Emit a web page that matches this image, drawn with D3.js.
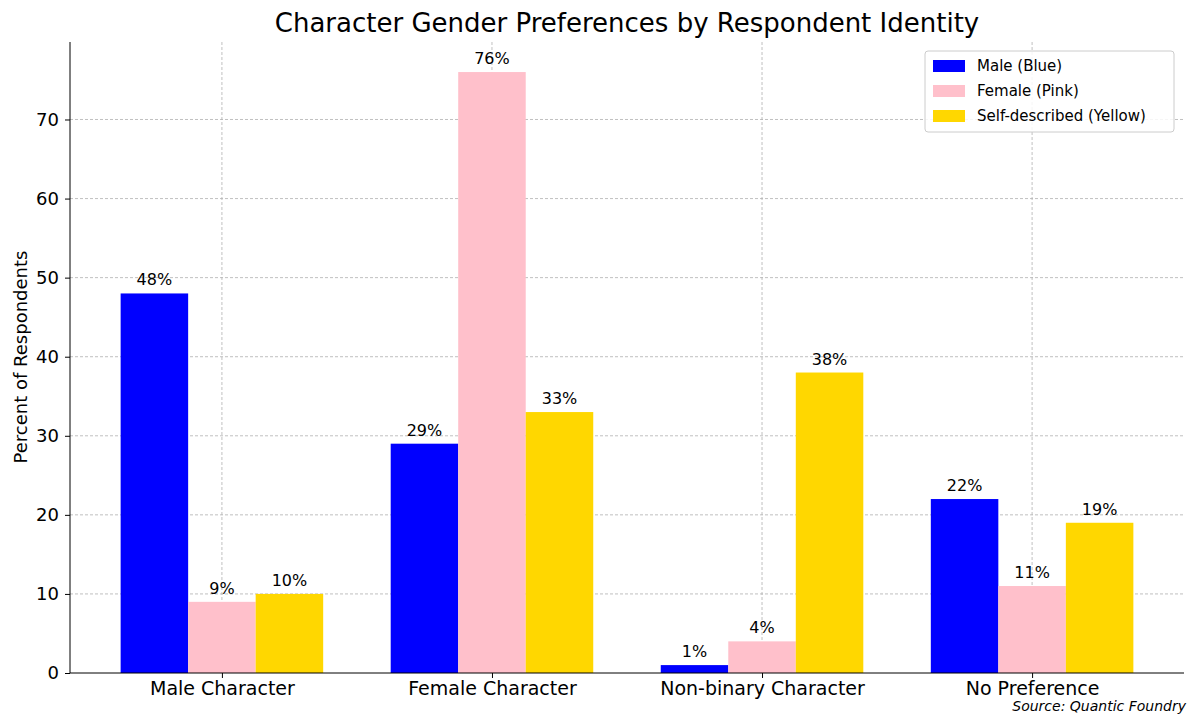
<!DOCTYPE html>
<html><head><meta charset="utf-8">
<script src="https://cdn.jsdelivr.net/npm/d3@7"></script>
<style>body{margin:0;background:#fff}svg{font-family:"DejaVu Sans",sans-serif}</style>
</head><body><svg width="1200" height="725"></svg>
<script>
const categories = ["Male Character", "Female Character", "Non-binary Character", "No Preference"];
const seriesNames = ["Male (Blue)", "Female (Pink)", "Self-described (Yellow)"];
const seriesColors = ["#0000ff", "#ffc0cb", "#ffd700"];
const maleVals = [48, 29, 1, 22];
const femaleVals = [9, 76, 4, 11];
const selfVals = [10, 33, 38, 19];
const yTicks = [0, 10, 20, 30, 40, 50, 60, 70];
const series = [maleVals, femaleVals, selfVals];

const svg = d3.select("svg");
const L = 70, R = 1184, T = 42, B = 673;
const x = d3.scaleLinear().domain([-0.5625, 3.5625]).range([L, R]);
const y = d3.scaleLinear().domain([0, 79.8]).range([B, T]);
const bw = 0.25;

// grid
const g = svg.append("g");
g.selectAll(".hg").data(yTicks.slice(1)).enter().append("line")
  .attr("x1", L).attr("x2", R).attr("y1", d => y(d)).attr("y2", d => y(d))
  .attr("stroke", "#b0b0b0").attr("stroke-dasharray", "3,2").attr("stroke-width", 0.8);
g.selectAll(".vg").data(categories).enter().append("line")
  .attr("x1", (d, i) => x(i)).attr("x2", (d, i) => x(i)).attr("y1", T).attr("y2", B)
  .attr("stroke", "#b0b0b0").attr("stroke-dasharray", "3,2").attr("stroke-width", 0.8);

// bars
series.forEach((vals, s) => {
  const off = (s - 1) * bw;
  svg.append("g").selectAll("rect").data(vals).enter().append("rect")
    .attr("x", (d, i) => x(i + off - bw / 2)).attr("width", x(bw) - x(0))
    .attr("y", d => y(d)).attr("height", d => B - y(d))
    .attr("fill", seriesColors[s]);
  svg.append("g").selectAll("text").data(vals).enter().append("text")
    .attr("x", (d, i) => x(i + off)).attr("y", d => y(d) - 8)
    .attr("text-anchor", "middle").attr("font-size", 16).text(d => d + "%");
});

// axes
const ya = svg.append("g").attr("transform", `translate(${L},0)`)
  .call(d3.axisLeft(y).tickValues(yTicks).tickSize(5).tickPadding(6));
ya.select(".domain").attr("d", `M0,${T}V${B}`);
ya.selectAll("text").attr("font-size", 18).attr("font-family", "DejaVu Sans");
const xa = svg.append("g").attr("transform", `translate(0,${B})`)
  .call(d3.axisBottom(x).tickValues([0, 1, 2, 3]).tickFormat(i => categories[i]).tickSize(5).tickPadding(4));
xa.select(".domain").attr("d", `M${L},0H${R}`);
xa.selectAll("text").attr("font-size", 19).attr("font-family", "DejaVu Sans");

svg.append("text").attr("x", 627).attr("y", 32).attr("text-anchor", "middle")
  .attr("font-size", 26).text("Character Gender Preferences by Respondent Identity");
svg.append("text").attr("transform", "translate(27,357) rotate(-90)").attr("text-anchor", "middle")
  .attr("font-size", 18).text("Percent of Respondents");
svg.append("text").attr("x", 1186).attr("y", 711).attr("text-anchor", "end")
  .attr("font-size", 14).attr("font-style", "italic").text("Source: Quantic Foundry");

// legend
const lg = svg.append("g").attr("transform", "translate(925,51)");
lg.append("rect").attr("width", 249).attr("height", 81).attr("rx", 3)
  .attr("fill", "#fff").attr("fill-opacity", 0.85).attr("stroke", "#ccc");
seriesNames.forEach((n, i) => {
  lg.append("rect").attr("x", 8).attr("y", 9 + i * 25).attr("width", 32).attr("height", 12).attr("fill", seriesColors[i]);
  lg.append("text").attr("x", 52).attr("y", 20 + i * 25).attr("font-size", 15).text(n);
});
</script></body></html>
